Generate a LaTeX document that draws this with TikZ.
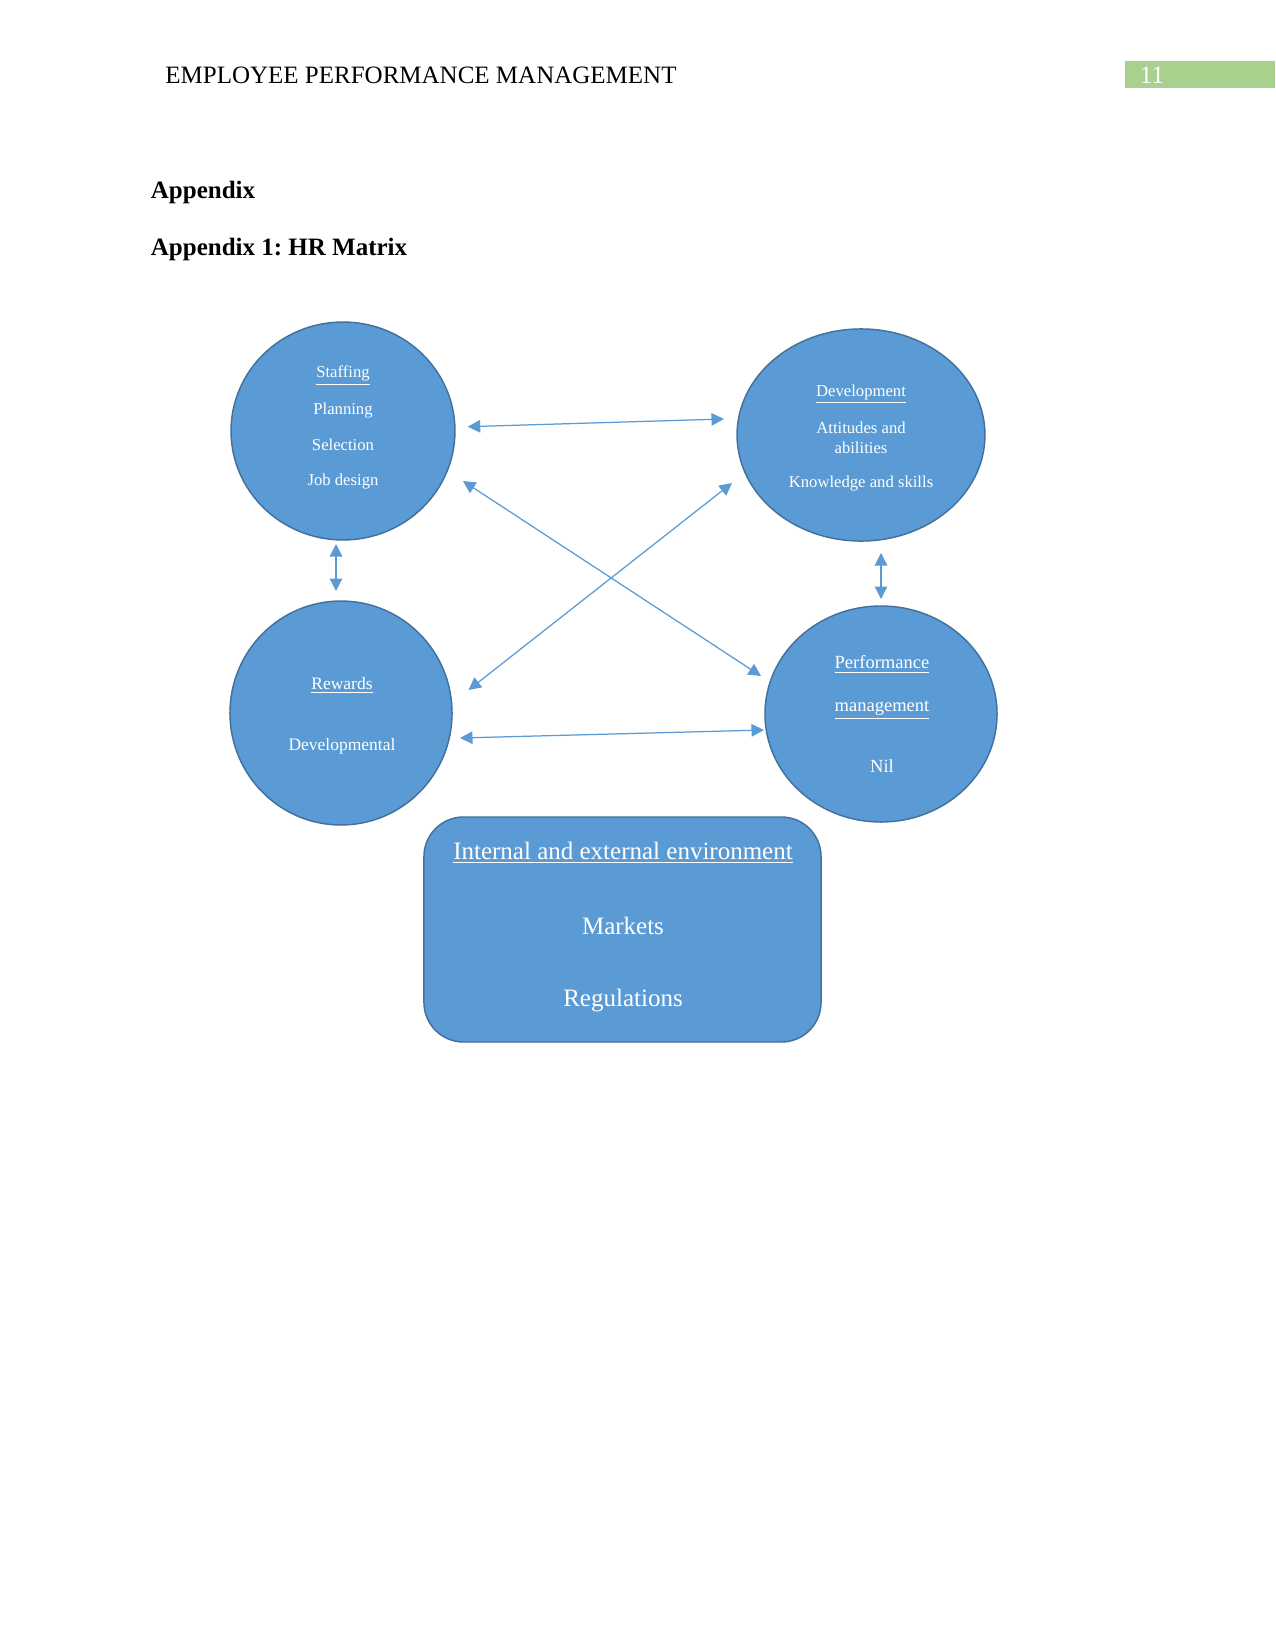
\documentclass[tikz,border=0pt]{standalone}
\usepackage{fontspec}
\setmainfont{Liberation Serif}
\usetikzlibrary{shapes.geometric,arrows.meta}
\definecolor{blobfill}{HTML}{5B9BD5}
\definecolor{blobline}{HTML}{41719C}
\definecolor{pagegreen}{HTML}{A9D18E}
\frenchspacing
\begin{document}
\begin{tikzpicture}[x=0.48pt,y=-0.48pt,
  blob/.style={ellipse,draw=blobline,fill=blobfill,line width=0.7pt,inner sep=0pt},
  envbox/.style={rectangle,rounded corners=19pt,draw=blobline,fill=blobfill,line width=0.7pt,inner sep=0pt,minimum width=190.6pt,minimum height=108pt},
  small/.style={text=white,inner sep=0pt,font=\fontsize{8}{9.6}\selectfont,align=center},
  mid/.style={text=white,inner sep=0pt,font=\fontsize{8.4}{10}\selectfont},
  perf/.style={text=white,inner sep=0pt,font=\fontsize{8.9}{10.7}\selectfont},
  big/.style={text=white,inner sep=0pt,font=\fontsize{12}{14.4}\selectfont},
  link/.style={draw=blobfill,line width=0.6pt,{Triangle[length=6pt,width=6pt]}-{Triangle[length=6pt,width=6pt]}},
  head/.style={inner sep=0pt,font=\fontsize{12}{14.4}\selectfont},
  bhead/.style={inner sep=0pt,font=\fontsize{12}{14.4}\selectfont\bfseries,anchor=west}]
\useasboundingbox (0,0) rectangle (1275,1651);
\fill[white] (0,0) rectangle (1275,1651);

% page header
\node[head,anchor=west] (hdr) at (165,75) {EMPLOYEE PERFORMANCE MANAGEMENT};
\fill[pagegreen] (1125,61) rectangle (1275,88);
\node[head,text=white] (pg) at (1152,75) {11};

\node[bhead] (app) at (150.5,192.5) {Appendix};
\node[bhead] (app1) at (150.5,249.5) {Appendix 1: HR Matrix};

% shapes
\node[blob,minimum width=107.5pt,minimum height=104.6pt] (staff) at (343,431) {};
\node[blob,minimum width=119pt,minimum height=101.8pt] (dev) at (861,435) {};
\node[blob,minimum width=106.6pt,minimum height=107.5pt] (rew) at (341,713) {};
\node[blob,minimum width=111.4pt,minimum height=103.7pt] (perf) at (881,714) {};
\node[envbox] (env) at (622.5,929.5) {};

% staffing texts
\node[small] (s1) at (343,376) {\underline{Staffing}};
\node[small] (s2) at (343,411) {Planning};
\node[small] (s3) at (343,445) {Selection};
\node[small] (s4) at (343,482) {Job design};

% development texts
\node[small] (d1) at (861,394.5) {\underline{Development}};
\node[small] (d2) at (861,437.5) {Attitudes and\\abilities};
\node[small] (d3) at (861,483.5) {Knowledge and skills};

% rewards texts
\node[mid] (r1) at (342,685.5) {\underline{Rewards}};
\node[mid] (r2) at (342,746) {Developmental};

% performance texts
\node[perf] (p1) at (882,664.5) {\underline{Performance}};
\node[perf] (p2) at (882,710.5) {\underline{management}};
\node[perf] (p3) at (882,766) {Nil};

% environment texts
\node[big] (e1) at (623,853) {\underline{Internal and external environment}};
\node[big] (e2) at (623,925.5) {Markets};
\node[big] (e3) at (623,1001) {Regulations};

% arrow endpoints
\coordinate (sd1) at (467.7,426.7);
\coordinate (sd2) at (724,419);
\coordinate (sp1) at (463,481);
\coordinate (sp2) at (761,676);
\coordinate (dr1) at (732,483);
\coordinate (dr2) at (468.5,690);
\coordinate (rp1) at (460,738);
\coordinate (rp2) at (764,730);
\coordinate (sr1) at (336,544);
\coordinate (sr2) at (336,591);
\coordinate (dp1) at (881,553);
\coordinate (dp2) at (881,599);

\draw[link] (sd1) -- (sd2);
\draw[link] (sp1) -- (sp2);
\draw[link] (dr1) -- (dr2);
\draw[link] (rp1) -- (rp2);
\draw[link] (sr1) -- (sr2);
\draw[link] (dp1) -- (dp2);
\end{tikzpicture}
\end{document}
